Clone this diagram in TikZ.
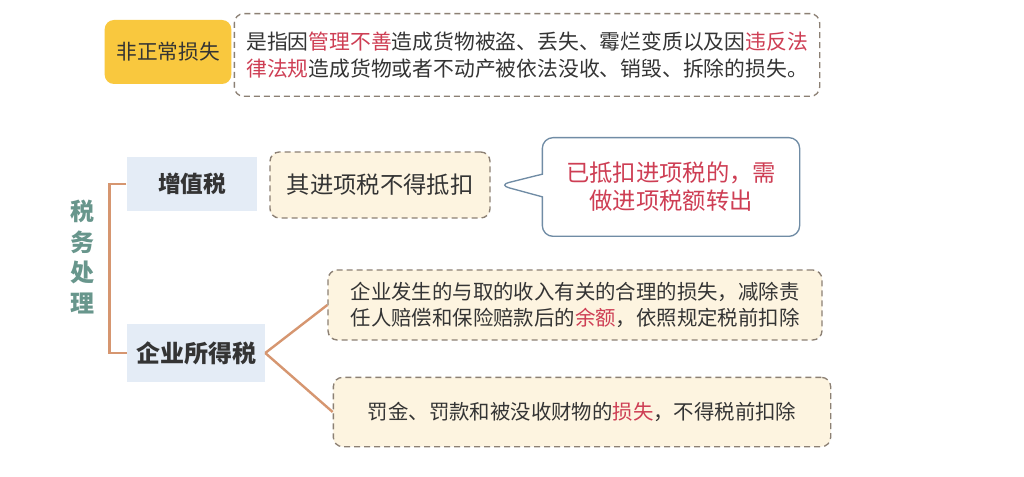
\documentclass[tikz,border=0pt]{standalone}
\usepackage{fontspec}
\setmainfont{Noto Sans CJK SC}
\usetikzlibrary{shapes.callouts}

\definecolor{lossyellow}{RGB}{249,200,62}
\definecolor{notefill}{RGB}{253,244,224}
\definecolor{notedash}{RGB}{140,128,116}
\definecolor{taxblue}{RGB}{228,236,246}
\definecolor{branchline}{RGB}{214,150,112}
\definecolor{sidegreen}{RGB}{104,150,140}
\definecolor{hired}{RGB}{206,62,84}
\definecolor{callblue}{RGB}{112,140,165}
\definecolor{bodytext}{RGB}{52,52,52}

\newcommand{\hl}[1]{\textcolor{hired}{#1}}

\begin{document}
\begin{tikzpicture}[x=0.75pt,y=-0.75pt]
        \tikzstyle{lossbox} = [fill=lossyellow, rounded corners=7pt, minimum width=95pt, minimum height=48pt, text=bodytext, font=\fontsize{15.5}{19}\selectfont]
        \tikzstyle{notebox} = [draw=notedash, line width=1pt, dash pattern=on 4.5pt off 3pt, rounded corners=7pt, fill=notefill, text=bodytext, align=left]
        \tikzstyle{taxbox} = [fill=taxblue, text=bodytext, font=\bfseries\fontsize{17}{20}\selectfont]
        \tikzstyle{branch} = [draw=branchline, line width=1.8pt]

		\useasboundingbox[fill=white] (0,0) rectangle (1024,477);

		% upper part
		\node[lossbox] (loss) at (168,52) {非正常损失};
		\node[notebox, fill=white, minimum width=439pt, minimum height=62pt, font=\fontsize{15.6}{20}\selectfont] (lossnote) at (527,55) {是指因\hl{管理不善}造成货物被盗、丢失、霉烂变质以及因\hl{违反法}\\\hl{律法规}造成货物或者不动产被依法没收、销毁、拆除的损失。};

		% tax handling
		\node[text=sidegreen, align=center, font=\bfseries\fontsize{18}{23}\selectfont] (side) at (82,257) {税\\务\\处\\理};

		\node[taxbox, minimum width=98pt, minimum height=41pt] (vat) at (192,184) {增值税};
		\node[taxbox, minimum width=103.5pt, minimum height=43pt, font=\bfseries\fontsize{18}{21}\selectfont] (cit) at (196,353) {企业所得税};

		\node[notebox, minimum width=165pt, minimum height=49.5pt, font=\fontsize{17.5}{21}\selectfont] (vatrule) at (380,185) {其进项税不得抵扣};
		\node[rectangle callout, draw=callblue, line width=1pt, rounded corners=8pt, fill=white, minimum width=193pt, minimum height=74pt, callout absolute pointer={([xshift=6pt]vatrule.east)}, callout pointer width=17pt, text=hired, align=center, font=\fontsize{17.5}{21}\selectfont] (vatout) at (671,187) {已抵扣进项税的，需\\做进项税额转出};

		\node[notebox, minimum width=370.5pt, minimum height=52.5pt, font=\fontsize{15.3}{19.5}\selectfont] (citok) at (575,305) {企业发生的与取的收入有关的合理的损失，减除责\\任人赔偿和保险赔款后的\hl{余额}，依照规定税前扣除};
		\node[notebox, minimum width=373pt, minimum height=52pt, font=\fontsize{15.3}{19.5}\selectfont] (citno) at (582,412) {罚金、罚款和被没收财物的\hl{损失}，不得税前扣除};

		\draw[branch] (vat.west) -- ++(-17,0) |- (cit.west);
		\draw[branch] (cit.east) -- (citok.west);
		\draw[branch] (cit.east) -- (citno.west);

    \end{tikzpicture}
\end{document}
